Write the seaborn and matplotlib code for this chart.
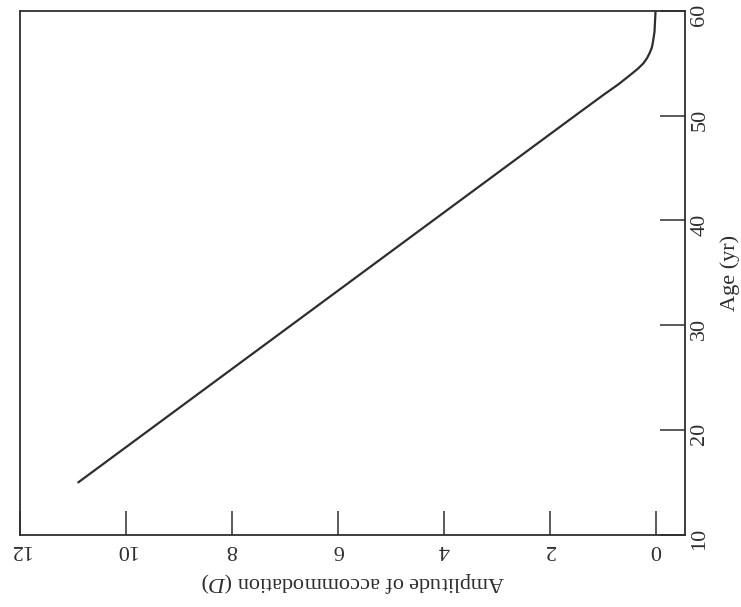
import seaborn as sns
import pandas as pd
import matplotlib
matplotlib.use('Agg')
import matplotlib.pyplot as plt

age = [15, 20, 25, 30, 35, 40, 45, 50, 52, 53, 54, 54.5, 55, 55.5, 56, 56.5, 57, 58, 59, 60]
amplitude = [10.9, 9.56, 8.22, 6.88, 5.54, 4.2, 2.86, 1.52, 0.98, 0.7, 0.45, 0.33, 0.23, 0.16, 0.11, 0.07, 0.05, 0.02, 0.01, 0.0]

amp_ticks = [0, 2, 4, 6, 8, 10, 12]
age_ticks = [10, 20, 30, 40, 50, 60]

df = pd.DataFrame({'age': age, 'amp': amplitude})

sns.set_theme(style='ticks')
plt.rcParams['font.family'] = ['Liberation Serif', 'DejaVu Serif']
plt.rcParams['mathtext.fontset'] = 'custom'
plt.rcParams['mathtext.it'] = 'Liberation Serif:italic'
plt.rcParams['mathtext.rm'] = 'Liberation Serif'

ink = '#2e2e2e'

fig = plt.figure(figsize=(7.41, 6.07), dpi=100)
ax = fig.add_axes([0.027, 0.119, 0.897, 0.863])

# the page is scanned turned 90 degrees, so amplitude runs along the bottom
sns.lineplot(data=df, x='amp', y='age', sort=False, color=ink, lw=1.6, ax=ax)

ax.set_xlim(12, -0.55)
ax.set_ylim(10, 60)

ax.set_xticks(amp_ticks)
ax.set_xticklabels([str(t) for t in amp_ticks])
ax.set_yticks(age_ticks)
ax.set_yticklabels([str(t) for t in age_ticks])

ax.yaxis.tick_right()
ax.yaxis.set_label_position('right')

ax.tick_params(axis='x', direction='in', length=17, width=1.1, color=ink,
               labelrotation=180, labelsize=16, labelcolor=ink, pad=4)
ax.tick_params(axis='y', direction='in', length=18, width=1.1, color=ink,
               labelrotation=90, labelsize=16, labelcolor=ink, pad=4,
               left=False, right=True)

for s in ax.spines.values():
    s.set_visible(True)
    s.set_color(ink)
    s.set_linewidth(1.3)

ax.set_xlabel('Amplitude of accommodation ($D$)', rotation=180, fontsize=16,
              color=ink, labelpad=8)
ax.set_ylabel('Age (yr)', rotation=90, fontsize=16, color=ink, labelpad=8)

fig.savefig('out.png', dpi=100, facecolor='white')
